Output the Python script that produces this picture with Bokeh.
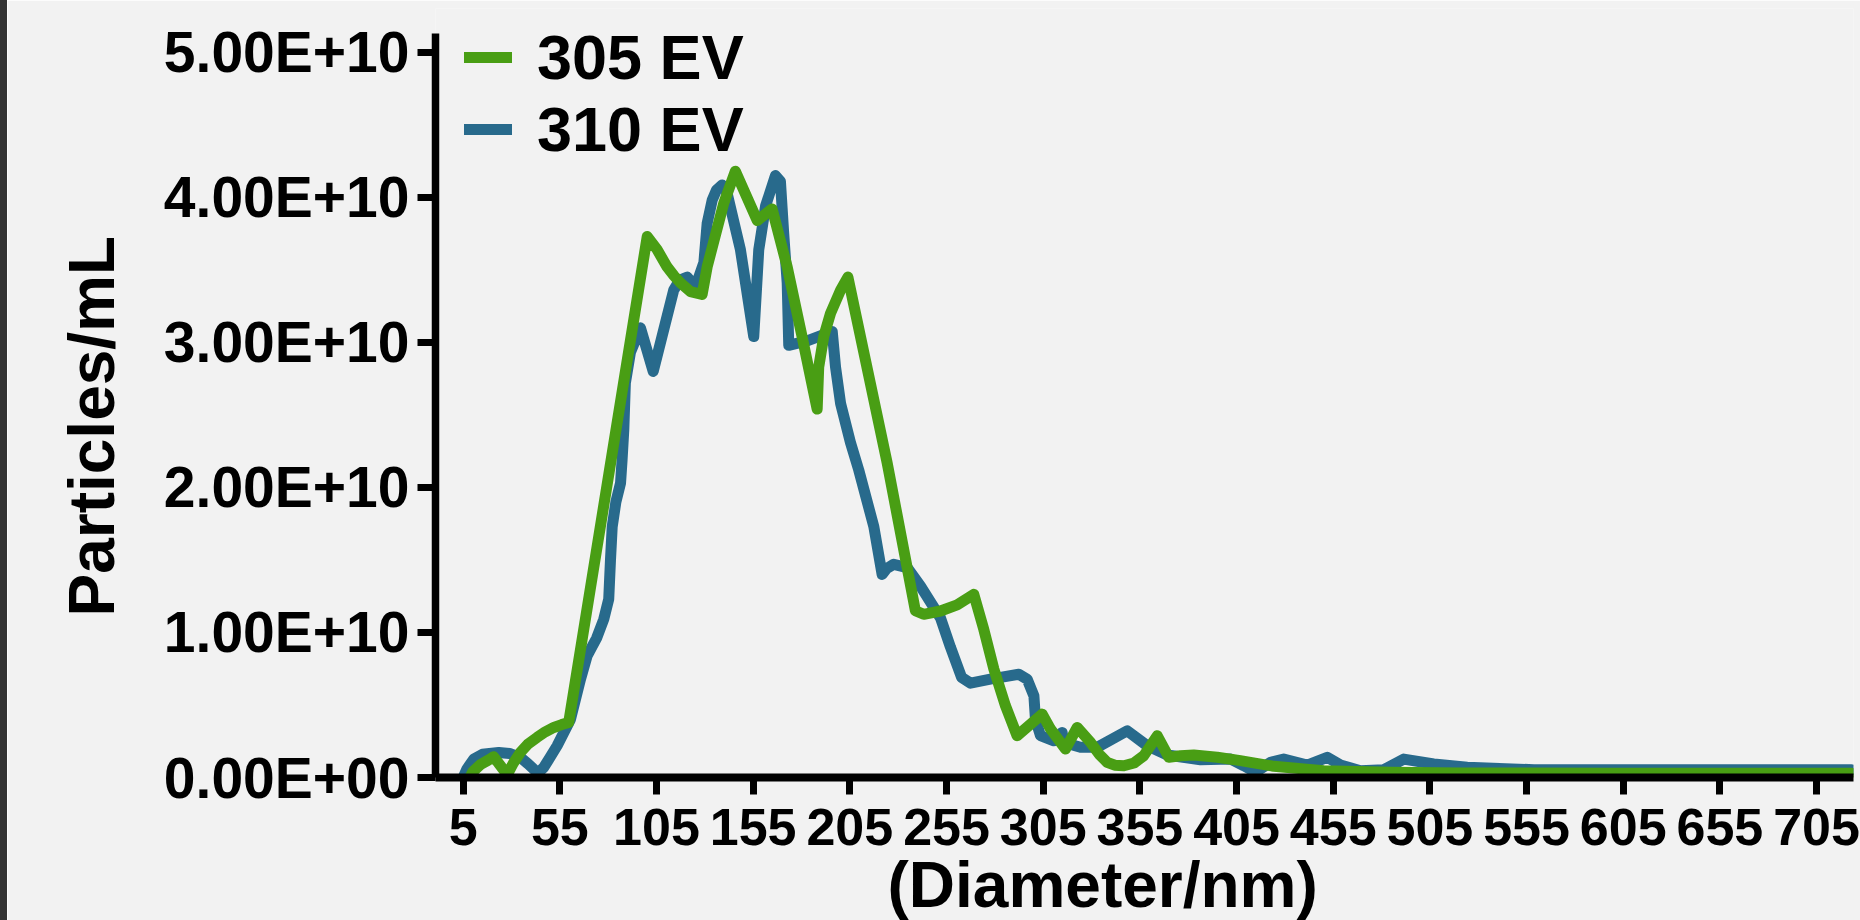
import numpy as np
from bokeh.plotting import figure
from bokeh.layouts import row
from bokeh.models import (Range1d, FixedTicker, CustomJSTickFormatter, Legend,
                          LegendItem, Title, Div)
from bokeh.embed import file_html
from bokeh.resources import INLINE

# Size distributions (diameter in nm, concentration in units of 1e10 particles/mL)
ev305_diameter = [7.0, 10.0, 14.0, 18.0, 20.8, 27.8, 31.0, 34.6, 38.5, 43.3, 47.5, 51.9,
                  56.0, 59.6, 100.2, 105.3, 110.5, 114.0, 117.4, 122.6, 128.6, 131.2,
                  134.7, 139.8, 145.8, 157.1, 164.8, 172.6, 180.3, 188.1, 188.9, 191.5,
                  195.0, 200.2, 204.0, 224.3, 238.9, 243.2, 251.9, 260.5, 269.1, 274.3,
                  279.5, 285.5, 291.5, 304.5, 308.8, 316.5, 322.6, 329.5, 334.0, 338.1,
                  342.0, 346.7, 352.0, 357.0, 364.0, 370.0, 376.0, 382.9, 395.0, 407.0,
                  424.3, 450.1, 484.6, 520.8, 600.0, 723.0]
ev305_conc = [-0.04, 0.04, 0.09, 0.12, 0.143, 0.02, 0.10, 0.173, 0.23, 0.277, 0.315, 0.345,
              0.365, 0.38, 3.73, 3.64, 3.52, 3.46, 3.41, 3.35, 3.33, 3.52,
              3.70, 3.96, 4.18, 3.84, 3.92, 3.52, 3.04, 2.54, 2.83, 3.04,
              3.20, 3.36, 3.45, 2.17, 1.15, 1.125, 1.148, 1.19, 1.263, 1.02,
              0.747, 0.494, 0.288, 0.437, 0.334, 0.196, 0.345, 0.242, 0.16, 0.105,
              0.085, 0.081, 0.10, 0.15, 0.288, 0.139, 0.15, 0.155, 0.14, 0.116,
              0.077, 0.047, 0.036, 0.031, 0.03, 0.03]

ev310_diameter = [5.0, 7.0, 10.5, 15.0, 23.4, 29.0, 34.6, 38.5, 42.4, 44.5, 46.7, 50.0,
                  53.6, 60.5, 65.7, 69.1, 74.0, 77.7, 80.3, 81.2, 82.1, 84.0, 86.4,
                  87.2, 88.1, 88.9, 91.5, 96.7, 103.3, 113.9, 117.0, 120.9, 125.2,
                  129.5, 131.2, 133.8, 136.0, 139.0, 141.5, 148.4, 155.3, 157.9, 161.4,
                  166.5, 169.1, 170.8, 172.6, 173.4, 182.9, 195.9, 197.6, 200.2, 205.3,
                  209.6, 217.4, 221.7, 224.0, 227.7, 234.7, 241.5, 251.9, 257.0, 262.8,
                  267.4, 277.7, 292.4, 296.7, 300.2, 301.0, 303.6, 310.5, 314.8, 315.7,
                  324.3, 332.9, 348.5, 358.8, 369.2, 386.4, 402.0, 408.8, 414.8, 422.6,
                  429.4, 441.6, 451.9, 458.8, 469.1, 481.2, 491.5, 507.0, 524.3, 558.8,
                  723.0]
ev310_conc = [0.0, 0.06, 0.127, 0.16, 0.173, 0.165, 0.139, 0.095, 0.047, 0.04, 0.07, 0.14,
              0.219, 0.40, 0.678, 0.838, 0.96, 1.09, 1.23, 1.50, 1.73, 1.90, 2.03,
              2.19, 2.40, 2.72, 2.93, 3.10, 2.80, 3.36, 3.43, 3.45, 3.385,
              3.55, 3.82, 3.98, 4.05, 4.085, 4.03, 3.64, 3.04, 3.64, 3.94,
              4.15, 4.11, 3.75, 3.41, 2.98, 3.01, 3.075, 2.83, 2.58, 2.31,
              2.12, 1.73, 1.40, 1.44, 1.47, 1.447, 1.32, 1.10, 0.90, 0.69,
              0.65, 0.678, 0.712, 0.678, 0.563, 0.40, 0.288, 0.253, 0.311, 0.242,
              0.208, 0.208, 0.322, 0.219, 0.155, 0.122, 0.127, 0.081, 0.036, 0.105,
              0.127, 0.086, 0.139, 0.086, 0.047, 0.054, 0.127, 0.093, 0.07, 0.054,
              0.054]

series_names = ["305 EV", "310 EV"]
x_ticks = [5, 55, 105, 155, 205, 255, 305, 355, 405, 455, 505, 555, 605, 655, 705]
y_ticks = [0.0, 1e10, 2e10, 3e10, 4e10, 5e10]

GREEN = "#499e14"
BLUE = "#286a8c"
BG = "#f2f2f2"
FONT = "Liberation Sans"

scale = 1e10
y305 = np.array(ev305_conc) * scale
y310 = np.array(ev310_conc) * scale

STRIP = 7
p = figure(width=1860 - STRIP, height=920, output_backend="svg", toolbar_location=None,
           x_range=Range1d(-9.3, 724.1), y_range=Range1d(0, 5.302e10),
           min_border_left=435 - STRIP, min_border_right=7, min_border_top=8,
           min_border_bottom=141)
p.background_fill_color = BG
p.border_fill_color = BG
p.outline_line_color = None
p.xgrid.visible = False
p.ygrid.visible = False

r310 = p.line(ev310_diameter, y310, line_color=BLUE, line_width=11,
              line_join="round", line_cap="round")
r305 = p.line(ev305_diameter, y305, line_color=GREEN, line_width=11,
              line_join="round", line_cap="round")

# axes
xa = p.xaxis[0]
xa.ticker = FixedTicker(ticks=x_ticks)
xa.minor_tick_line_color = None
xa.axis_line_width = 8
xa.major_tick_line_width = 7
xa.major_tick_out = 17
xa.major_tick_in = 0
xa.major_label_text_font = FONT
xa.major_label_text_font_style = "bold"
xa.major_label_text_font_size = "52px"
xa.major_label_text_color = "black"
xa.major_label_standoff = 14

ya = p.yaxis[0]
ya.ticker = FixedTicker(ticks=y_ticks)
ya.bounds = (0, 5.13e10)
ya.minor_tick_line_color = None
ya.axis_line_width = 7.5
ya.major_tick_line_width = 7
ya.major_tick_out = 18
ya.major_tick_in = 0
ya.major_label_text_font = FONT
ya.major_label_text_font_style = "bold"
ya.major_label_text_font_size = "57px"
ya.major_label_text_color = "black"
ya.major_label_standoff = 8
ya.formatter = CustomJSTickFormatter(code="""
    const s = tick.toExponential(2).toUpperCase();
    const parts = s.split("E");
    let d = parts[1].slice(1);
    if (d.length < 2) { d = "0" + d; }
    return parts[0] + "E" + parts[1][0] + d;
""")

# axis titles
p.add_layout(Title(text="Particles/mL", align="left", offset=161, standoff=65,
                   text_font=FONT, text_font_style="bold", text_font_size="64px",
                   text_color="black"), "left")
p.add_layout(Title(text="(Diameter/nm)", align="left", offset=452, standoff=-1,
                   text_font=FONT, text_font_style="bold", text_font_size="64px",
                   text_color="black"), "below")

legend = Legend(items=[LegendItem(label=series_names[0], renderers=[r305]),
                       LegendItem(label=series_names[1], renderers=[r310])],
                location=(29, 612), orientation="vertical",
                background_fill_alpha=0, border_line_color=None,
                padding=0, margin=0, spacing=-10,
                glyph_width=48, glyph_height=66, label_height=66,
                label_standoff=25, label_text_font=FONT, label_text_line_height=1.0,
                label_text_font_style="bold", label_text_font_size="63px",
                label_text_color="black")
p.add_layout(legend)

strip = Div(width=STRIP, height=920, margin=(0, 0, 0, 0),
            styles={"background-color": "#333333"})
layout = row(strip, p, spacing=0)

open("out.html", "w").write(file_html(layout, INLINE))
